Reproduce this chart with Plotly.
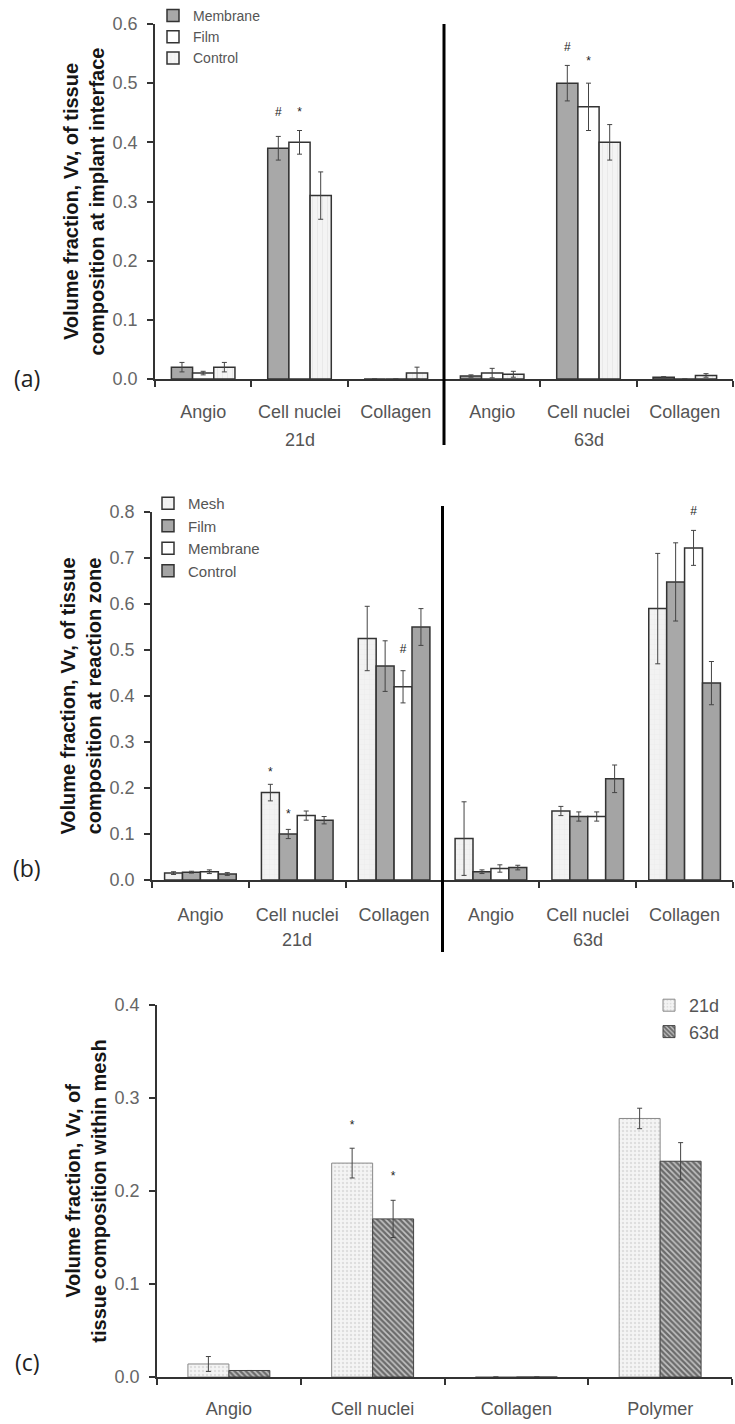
import plotly.graph_objects as go

W, H = 735, 1424

# ---------------- data ----------------
cats_a = ["Angio", "Cell nuclei", "Collagen", "Angio", "Cell nuclei", "Collagen"]
membrane_a = [0.020, 0.390, 0.000, 0.005, 0.500, 0.003]
membrane_a_err = [0.008, 0.020, 0.000, 0.002, 0.030, 0.001]
film_a = [0.010, 0.400, 0.000, 0.010, 0.460, 0.000]
film_a_err = [0.003, 0.020, 0.000, 0.008, 0.040, 0.000]
control_a = [0.020, 0.310, 0.010, 0.008, 0.400, 0.006]
control_a_err = [0.008, 0.040, 0.010, 0.005, 0.030, 0.003]

cats_b = ["Angio", "Cell nuclei", "Collagen", "Angio", "Cell nuclei", "Collagen"]
mesh_b = [0.015, 0.190, 0.525, 0.090, 0.150, 0.590]
mesh_b_err = [0.003, 0.018, 0.070, 0.080, 0.010, 0.120]
film_b = [0.017, 0.100, 0.465, 0.018, 0.138, 0.648]
film_b_err = [0.002, 0.010, 0.055, 0.004, 0.010, 0.085]
membrane_b = [0.018, 0.140, 0.420, 0.025, 0.138, 0.722]
membrane_b_err = [0.004, 0.010, 0.035, 0.008, 0.010, 0.038]
control_b = [0.013, 0.130, 0.550, 0.027, 0.220, 0.428]
control_b_err = [0.003, 0.008, 0.040, 0.005, 0.030, 0.047]

cats_c = ["Angio", "Cell nuclei", "Collagen", "Polymer"]
d21_c = [0.014, 0.230, 0.000, 0.278]
d21_c_err = [0.008, 0.016, 0.000, 0.011]
d63_c = [0.007, 0.170, 0.000, 0.232]
d63_c_err = [0.000, 0.020, 0.000, 0.020]

time_labels = ["21d", "63d"]

# significance marks: (series index, category index, symbol, height)
sig_a = [(0, 1, "#", 0.45), (1, 1, "*", 0.45), (0, 4, "#", 0.56), (1, 4, "*", 0.535)]
sig_b = [(0, 1, "*", 0.233), (1, 1, "*", 0.141), (2, 2, "#", 0.50), (2, 5, "#", 0.80)]
sig_c = [(0, 1, "*", 0.27), (1, 1, "*", 0.215)]

# ---------------- helpers ----------------
def px_y(p):
    return (H - p) / H

def px_x(p):
    return p / W

FONT = "Liberation Sans"
EDGE = "#333333"

fig = go.Figure()

def add_group(series, xa, ya, group_frac, legend):
    n = len(series)
    w = group_frac / n
    centers = []
    for i, s in enumerate(series):
        off = -group_frac / 2 + i * w
        centers.append(off + w / 2)
        fig.add_trace(go.Bar(
            x=list(range(len(s["y"]))), y=s["y"], name=s["name"],
            width=w, offset=off, xaxis=xa, yaxis=ya, legend=legend,
            marker=dict(color=s["color"], line=dict(color=s.get("edge", EDGE), width=s.get("lw", 1.5)),
                        pattern=s.get("pattern", dict(shape=""))),
            error_y=dict(type="data", array=s["err"], visible=True, color="#444", thickness=1, width=2.5),
        ))
    return centers

def add_sig(sig, centers, xa, ya):
    xs = [c + centers[si] for si, c, _, _ in sig]
    ys = [h for _, _, _, h in sig]
    tx = [t for _, _, t, _ in sig]
    fig.add_trace(go.Scatter(x=xs, y=ys, mode="text", text=tx, xaxis=xa, yaxis=ya,
                             textfont=dict(family=FONT, size=12, color="#222"),
                             cliponaxis=False, showlegend=False, hoverinfo="skip"))

# ---------------- panel a ----------------
ca = add_group([
    dict(name="Membrane", y=membrane_a, err=membrane_a_err, color="#a8a8a8"),
    dict(name="Film", y=film_a, err=film_a_err, color="#ffffff"),
    dict(name="Control", y=control_a, err=control_a_err, color="#f4f4f4",
         pattern=dict(shape="|", fgcolor="#d8d8d8", size=5, solidity=0.15)),
], "x", "y", 0.66, "legend")
add_sig(sig_a, ca, "x", "y")

# ---------------- panel b ----------------
cb = add_group([
    dict(name="Mesh", y=mesh_b, err=mesh_b_err, color="#f2f2f2",
         pattern=dict(shape="+", fgcolor="#dddddd", size=5, solidity=0.12)),
    dict(name="Film", y=film_b, err=film_b_err, color="#a8a8a8"),
    dict(name="Membrane", y=membrane_b, err=membrane_b_err, color="#ffffff"),
    dict(name="Control", y=control_b, err=control_b_err, color="#a4a4a4"),
], "x2", "y2", 0.74, "legend2")
add_sig(sig_b, cb, "x2", "y2")

# ---------------- panel c ----------------
cc = add_group([
    dict(name="21d", y=d21_c, err=d21_c_err, color="#f4f4f4", edge="#888888", lw=1,
         pattern=dict(shape=".", fgcolor="#c8c8c8", size=4, solidity=0.3)),
    dict(name="63d", y=d63_c, err=d63_c_err, color="#c4c4c4", edge="#444444", lw=1,
         pattern=dict(shape="\\", fgcolor="#111111", size=4, solidity=0.6)),
], "x3", "y3", 0.57, "legend3")
add_sig(sig_c, cc, "x3", "y3")

# ---------------- axes ----------------
def xaxis(dom, n, cats, anchor, standoff_len):
    return dict(domain=dom, anchor=anchor, range=[-0.5, n - 0.5],
                tickvals=list(range(n)), ticktext=cats,
                ticks="outside", ticklen=standoff_len, tickcolor="rgba(0,0,0,0)",
                tickfont=dict(family=FONT, size=18, color="#555"),
                showline=True, linecolor=EDGE, linewidth=1.5,
                showgrid=False, zeroline=False, fixedrange=True,
                minor=dict(tickvals=[i - 0.5 for i in range(n + 1)], ticks="outside",
                           ticklen=6, tickcolor=EDGE, tickwidth=1.5))

def yaxis(dom, top, anchor, title):
    return dict(domain=dom, anchor=anchor, range=[0, top], dtick=0.1, tickformat=".1f",
                ticks="outside", ticklen=6, tickcolor=EDGE, tickwidth=1.5,
                ticklabelstandoff=6,
                tickfont=dict(family=FONT, size=18, color="#666"),
                showline=True, linecolor=EDGE, linewidth=1.5,
                showgrid=False, zeroline=False, fixedrange=True,
                title=dict(text=title, standoff=3,
                           font=dict(family=FONT, size=20, weight="bold", color="#151515")))

fig.update_layout(
    xaxis=xaxis([px_x(155), px_x(733)], 6, cats_a, "y", 16),
    yaxis=yaxis([px_y(379), px_y(24)], 0.6, "x",
                "Volume fraction, Vv, of tissue<br>composition at implant interface"),
    xaxis2=xaxis([px_x(152), px_x(733)], 6, cats_b, "y2", 18),
    yaxis2=yaxis([px_y(880), px_y(512)], 0.8, "x2",
                 "Volume fraction, Vv, of tissue<br>composition at reaction zone"),
    xaxis3=xaxis([px_x(157), px_x(732)], 4, cats_c, "y3", 15),
    yaxis3=yaxis([px_y(1377), px_y(1005)], 0.4, "x3",
                 "Volume fraction, Vv, of<br>tissue composition within mesh"),
)

fig.update_layout(
    barmode="overlay",
    width=W, height=H, autosize=False,
    margin=dict(l=0, r=0, t=0, b=0, autoexpand=False),
    paper_bgcolor="white", plot_bgcolor="white",
    showlegend=True,
    legend=dict(x=px_x(153), y=px_y(0), xanchor="left", yanchor="top",
                font=dict(family=FONT, size=14, color="#555"),
                bgcolor="rgba(0,0,0,0)", tracegroupgap=0, itemwidth=30),
    legend2=dict(x=px_x(148), y=px_y(487), xanchor="left", yanchor="top",
                 font=dict(family=FONT, size=15, color="#555"),
                 bgcolor="rgba(0,0,0,0)", tracegroupgap=0, itemwidth=30),
    legend3=dict(x=px_x(649), y=px_y(987), xanchor="left", yanchor="top",
                 font=dict(family=FONT, size=18, color="#555"),
                 bgcolor="rgba(0,0,0,0)", tracegroupgap=0, itemwidth=30),
)

# divider lines between 21d and 63d
fig.add_shape(type="line", xref="x", yref="paper", x0=2.5, x1=2.5,
              y0=px_y(445), y1=px_y(24), line=dict(color="black", width=3))
fig.add_shape(type="line", xref="x2", yref="paper", x0=2.5, x1=2.5,
              y0=px_y(952), y1=px_y(506), line=dict(color="black", width=3))

# time group labels
for xa, ypix in (("x", 440), ("x2", 940)):
    for k, lab in enumerate(time_labels):
        fig.add_annotation(x=1 + 3 * k, xref=xa, y=px_y(ypix), yref="paper", text=lab,
                           yanchor="middle", showarrow=False,
                           font=dict(family=FONT, size=18, color="#555"))

# panel labels
for lab, ypix in (("(a)", 378), ("(b)", 868), ("(c)", 1362)):
    fig.add_annotation(x=px_x(27), y=px_y(ypix), xref="paper", yref="paper", text=lab,
                       xanchor="center", yanchor="middle", showarrow=False,
                       font=dict(family="Open Sans", size=23, color="#222"))

fig.write_html("out.html", config={"displayModeBar": False},
               post_script="document.body.style.margin='0';")
